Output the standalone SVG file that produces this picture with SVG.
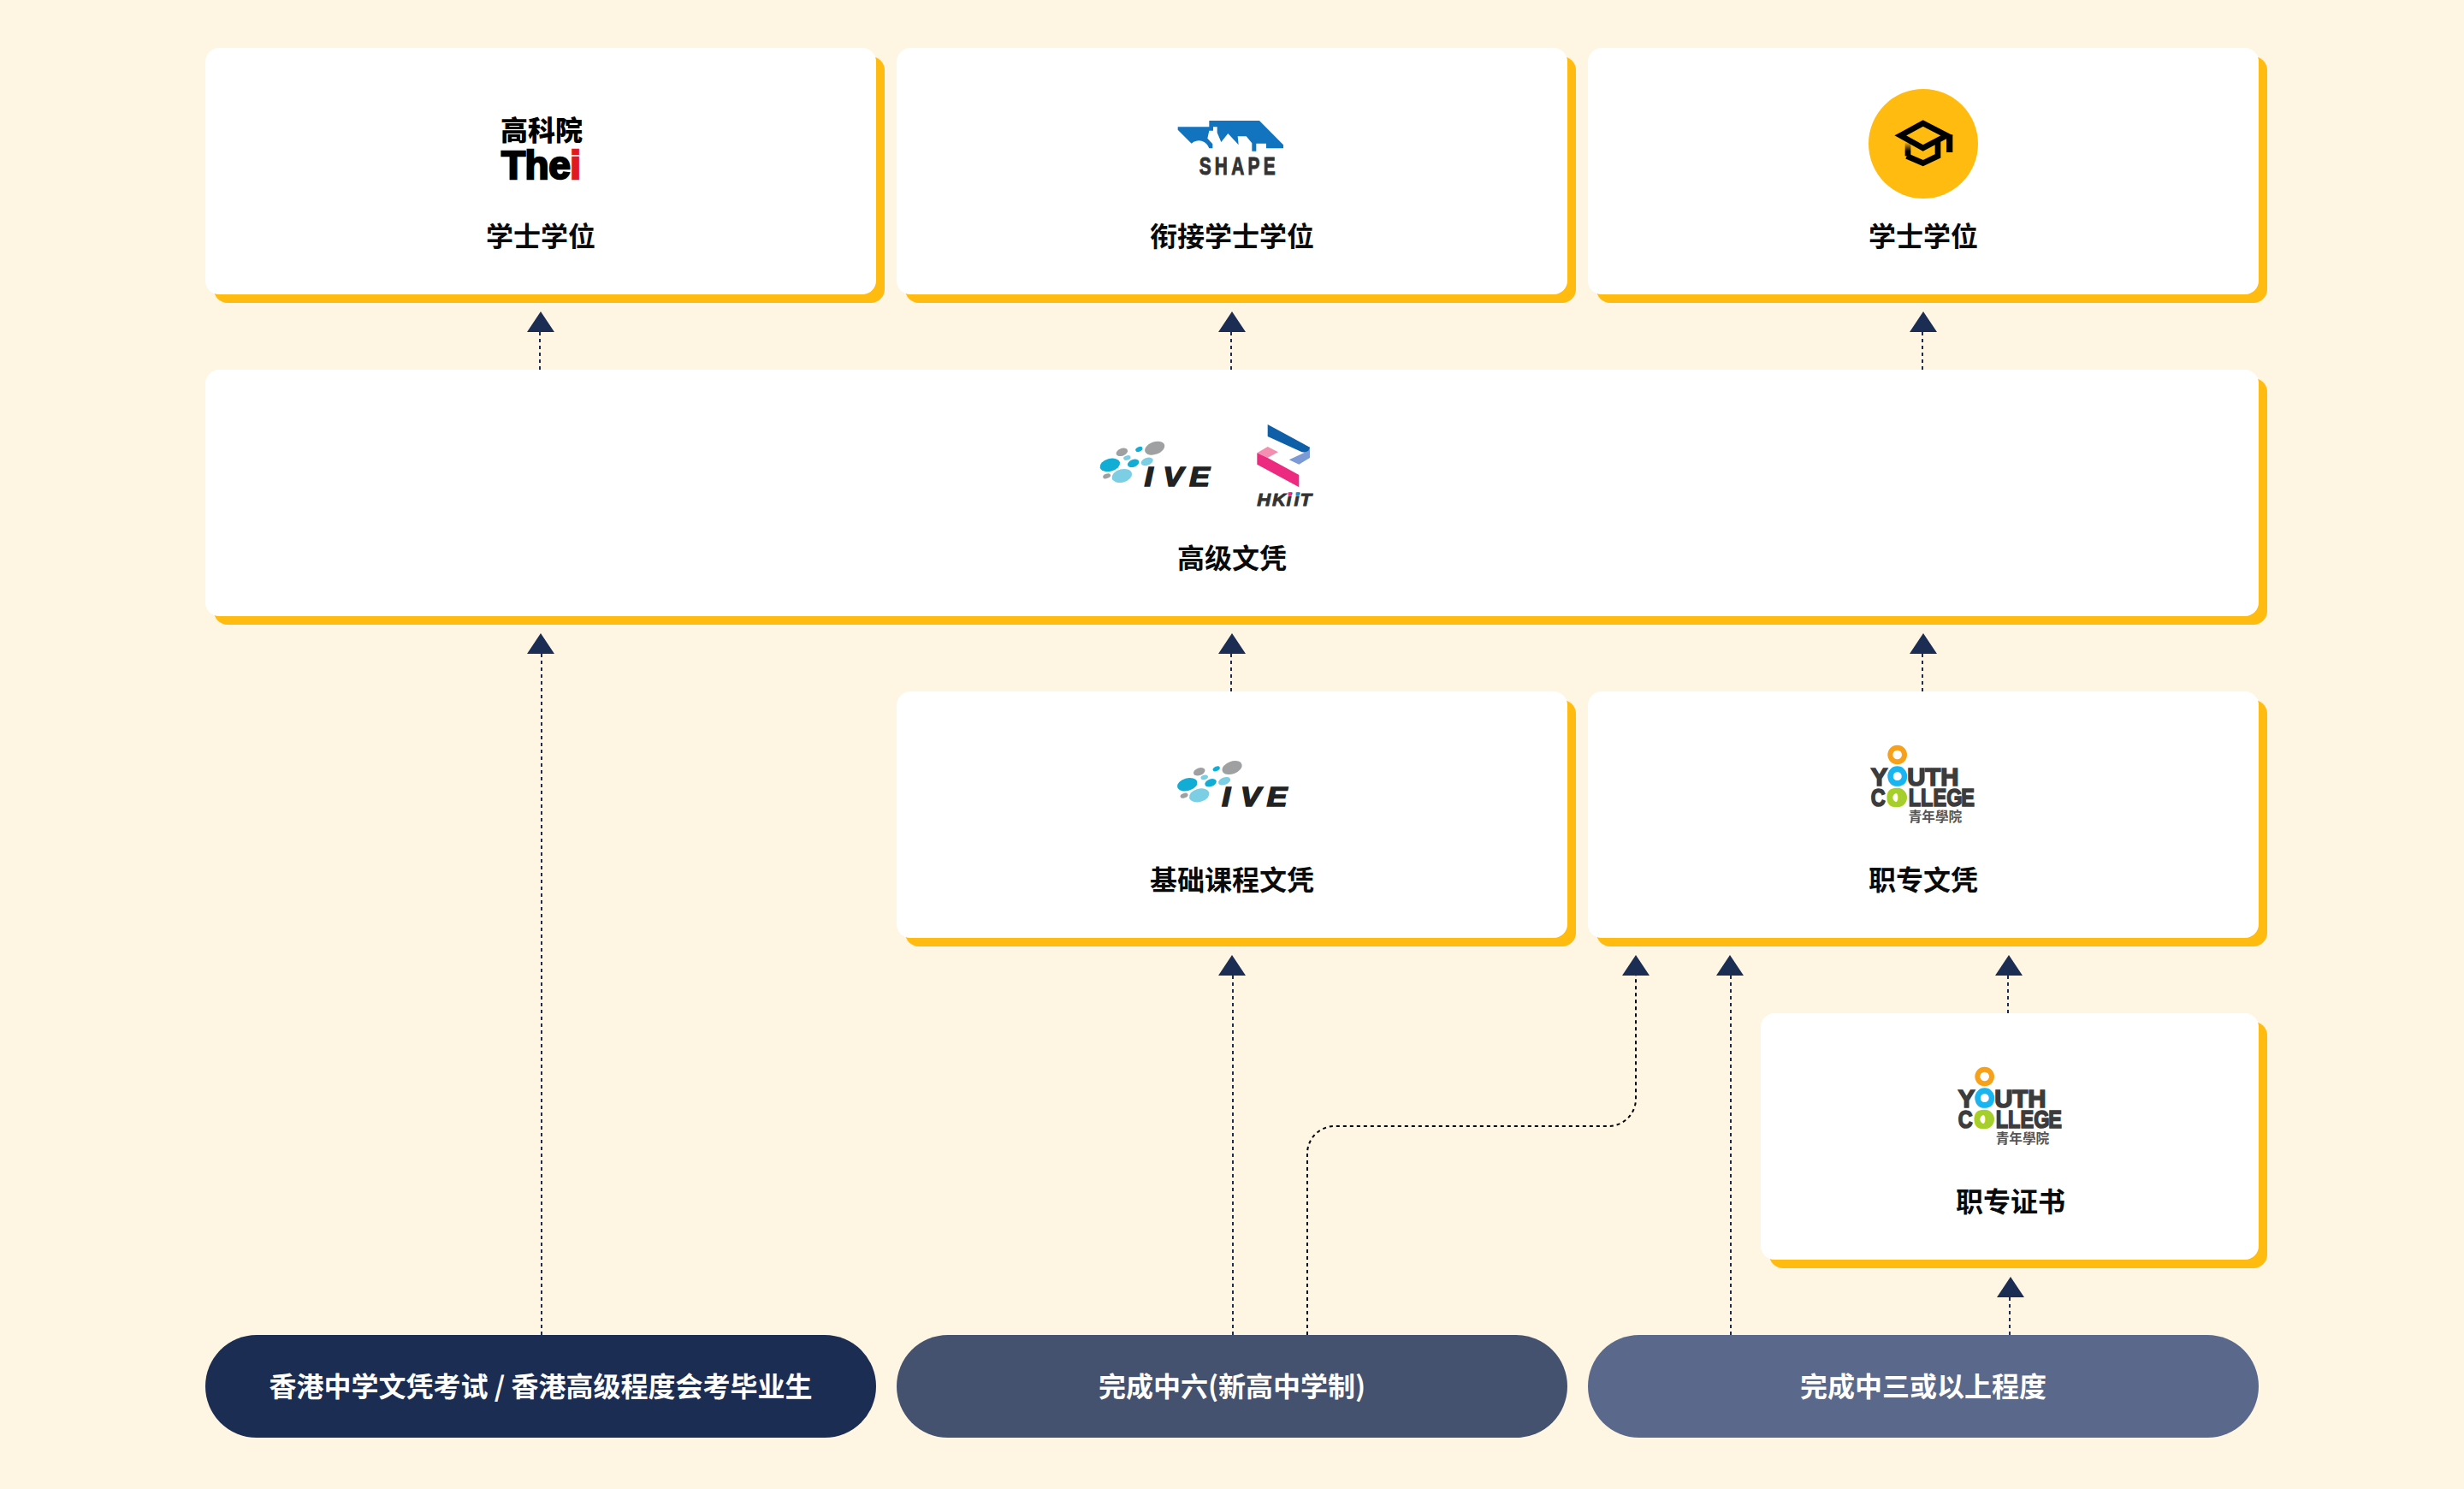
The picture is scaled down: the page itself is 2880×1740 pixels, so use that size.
<svg xmlns="http://www.w3.org/2000/svg" width="2880" height="1740" viewBox="0 0 2880 1740">
<style>
.shadow{fill:#FFBB10}
.card{fill:#fff}
.lbl{font-family:"Noto Sans CJK SC","Noto Sans",sans-serif;font-weight:700;font-size:32px;fill:#0a0a0a;text-anchor:middle}
.pl{font-family:"Noto Sans CJK SC","Noto Sans",sans-serif;font-weight:700;font-size:32px;fill:#fff;text-anchor:middle}
.conn{fill:none;stroke:#1C2D54;stroke-width:2;stroke-dasharray:4 4;marker-end:url(#ah)}
.rt{marker-end:url(#ahr)}
.lt{marker-end:url(#ahl)}
.blk{stroke:#000}
.ive{font-family:"Liberation Sans",sans-serif;font-weight:700;font-style:italic;font-size:92px;fill:#222;stroke:#222;stroke-width:5}
.yc{font-family:"Liberation Sans",sans-serif;font-weight:700;font-size:88px;fill:#3c3c3c;stroke:#3c3c3c;stroke-width:5}
.yt{font-family:"Noto Sans CJK TC",sans-serif;font-weight:700;font-size:47px;fill:#555}
.ring{fill:none;stroke-width:18}
.g1{fill:#9FA0A2}.c1{fill:#12ADD5}.l1{fill:#7BCEE4}
</style>
<defs>
<marker id="ah" markerUnits="userSpaceOnUse" markerWidth="24" markerHeight="34" refX="0" refY="16" orient="auto" overflow="visible"><path d="M0 0L24 16L0 32Z" fill="#1C2D54"/></marker>
<marker id="ahr" markerUnits="userSpaceOnUse" markerWidth="24" markerHeight="34" refX="0" refY="17" orient="auto" overflow="visible"><path d="M0 0L24 16L0 32Z" fill="#1C2D54"/></marker>
<marker id="ahl" markerUnits="userSpaceOnUse" markerWidth="24" markerHeight="34" refX="0" refY="15" orient="auto" overflow="visible"><path d="M0 0L24 16L0 32Z" fill="#1C2D54"/></marker>
<linearGradient id="fade" gradientUnits="userSpaceOnUse" x1="0" y1="258" x2="0" y2="290"><stop offset="0" stop-color="#000" stop-opacity="0"/><stop offset="1" stop-color="#000"/></linearGradient>
<g id="ivedots">
<ellipse class="c1" cx="172" cy="190" rx="36" ry="22" transform="rotate(-15 172 190)"/>
<ellipse class="g1" cx="214" cy="145" rx="21" ry="13" transform="rotate(-20 214 145)"/>
<ellipse class="l1" cx="232" cy="165" rx="13" ry="8" transform="rotate(-15 232 165)"/>
<ellipse class="c1" cx="274" cy="135" rx="13" ry="8" transform="rotate(-25 274 135)"/>
<ellipse class="g1" cx="329" cy="131" rx="36" ry="22" transform="rotate(-20 329 131)"/>
<ellipse class="c1" cx="254" cy="184" rx="21" ry="13" transform="rotate(-20 254 184)"/>
<ellipse class="l1" cx="302" cy="178" rx="22" ry="13" transform="rotate(-20 302 178)"/>
<ellipse class="l1" cx="214" cy="228" rx="36" ry="23" transform="rotate(-15 214 228)"/>
<ellipse class="g1" cx="161" cy="229" rx="14" ry="8" transform="rotate(-20 161 229)"/>
</g>
<g id="ycrings">
<circle class="ring" cx="233" cy="96" r="25" stroke="#F7A11A"/>
<circle class="ring" cx="233" cy="170" r="25" stroke="#19B5F1"/>
<circle class="ring" cx="233" cy="246" r="25" stroke="#A5CF2B"/>
</g>
</defs>
<rect width="2880" height="1740" fill="#FEF5E3"/>
<g id="connectors">
<path class="conn lt" d="M631 432V388"/>
<path class="conn lt" d="M1439 432V388"/>
<path class="conn lt" d="M2247 432V388"/>
<path class="conn rt" d="M633 1560V764"/>
<path class="conn lt" d="M1439 808V764"/>
<path class="conn lt" d="M2247 808V764"/>
<path class="conn rt" d="M1441 1560V1140"/>
<path class="conn blk" d="M1528 1560V1348A32 32 0 0 1 1560 1316H1880A32 32 0 0 0 1912 1284V1140"/>
<path class="conn rt" d="M2023 1560V1140"/>
<path class="conn lt" d="M2347 1184V1140"/>
<path class="conn lt" d="M2349 1560V1516"/>
</g>
<g id="node-thei">
<rect class="shadow" x="250" y="66" width="784" height="288" rx="16"/>
<rect class="card" x="240" y="56" width="784" height="288" rx="16"/>
<text x="633" y="164" text-anchor="middle" font-family="'Noto Sans CJK TC',sans-serif" font-weight="900" font-size="32" fill="#000">高科院</text>
<text x="586" y="209" font-family="'Liberation Sans',sans-serif" font-weight="700" font-size="46" fill="#000" stroke="#000" stroke-width="2.4" textLength="93" lengthAdjust="spacing">The<tspan fill="#E01A22" stroke="#E01A22">i</tspan></text>
<text class="lbl" x="632" y="288">学士学位</text>
</g>
<g id="node-shape">
<rect class="shadow" x="1058" y="66" width="784" height="288" rx="16"/>
<rect class="card" x="1048" y="56" width="784" height="288" rx="16"/>
<g transform="translate(1300 80) scale(.33333)">
<path fill="#1273BE" d="M230 205H340V183H516L600 268V280H540V263H505V290H490V262L470 238H440L443 268L406 228L382 258L368 225V205H354V218H340L334 245L352 265V280H340A38 38 0 0 0 278 263L230 215Z"/>
<text transform="translate(305 373) scale(.72 1)" font-family="'Liberation Sans',sans-serif" font-weight="700" font-size="87" fill="#333" stroke="#333" stroke-width="3" textLength="371" lengthAdjust="spacing">SHAPE</text>
</g>
<text class="lbl" x="1440" y="288">衔接学士学位</text>
</g>
<g id="node-degree">
<rect class="shadow" x="1866" y="66" width="784" height="288" rx="16"/>
<rect class="card" x="1856" y="56" width="784" height="288" rx="16"/>
<circle cx="2248" cy="168" r="64" fill="#FFBB10"/>
<g transform="translate(2140 80) scale(.33333)" fill="none" stroke="#000" stroke-width="20">
<path d="M244 235L323 192L406 235L323 279Z"/>
<path d="M416 232V294" stroke-width="22"/>
<path d="M270 260V307" stroke="url(#fade)"/>
<path d="M266 307L323 332L375 307V258"/>
</g>
<text class="lbl" x="2248" y="288">学士学位</text>
</g>
<g id="node-higher">
<rect class="shadow" x="250" y="442" width="2400" height="288" rx="16"/>
<rect class="card" x="240" y="432" width="2400" height="288" rx="16"/>
<g transform="translate(1240 480) scale(.33333)">
<use href="#ivedots"/>
<text class="ive" transform="scale(1.15 1)" x="255 312 392" y="265">IVE</text>
<path fill="#0F5FA8" d="M725 48L873 128V148L845 145L725 90Z"/>
<path fill="#7C9BD6" d="M873 128V165L835 188L800 172L868 140Z"/>
<path fill="#F48FB1" d="M688 148L725 126L762 145L725 165Z"/>
<path fill="#EC2A7F" d="M688 148L725 165L835 225V268L688 188Z"/>
<text transform="scale(1.1 1)" x="625 674 719 743 762" y="333" font-family="'Liberation Sans',sans-serif" font-weight="700" font-style="italic" font-size="60" fill="#333" stroke="#333" stroke-width="2.5">HKiiT</text>
<rect x="797" y="286" width="12" height="11" fill="#EC2A7F"/>
<rect x="824" y="286" width="12" height="11" fill="#1C8FD8"/>
</g>
<text class="lbl" x="1440" y="664">高级文凭</text>
</g>
<g id="node-foundation">
<rect class="shadow" x="1058" y="818" width="784" height="288" rx="16"/>
<rect class="card" x="1048" y="808" width="784" height="288" rx="16"/>
<g transform="translate(1330.4 853.4) scale(.33333)">
<use href="#ivedots"/>
<text class="ive" transform="scale(1.15 1)" x="255 312 392" y="265">IVE</text>
</g>
<text class="lbl" x="1440" y="1040">基础课程文凭</text>
</g>
<g id="node-vocdip">
<rect class="shadow" x="1866" y="818" width="784" height="288" rx="16"/>
<rect class="card" x="1856" y="808" width="784" height="288" rx="16"/>
<g transform="translate(2140 850) scale(.33333)">
<text class="yc" y="203" x="140 199 268 331 385">Y<tspan fill="#19B5F1" stroke="#19B5F1">O</tspan>UTH</text>
<text class="yc" y="277" transform="scale(.8 1)" x="175 245 340 394 448 507 571">C<tspan fill="#A5CF2B" stroke="#A5CF2B">O</tspan>LLEGE</text>
<use href="#ycrings"/>
<text class="yt" x="272" y="331">青年學院</text>
</g>
<text class="lbl" x="2248" y="1040">职专文凭</text>
</g>
<g id="node-voccert">
<rect class="shadow" x="2068" y="1194" width="582" height="288" rx="16"/>
<rect class="card" x="2058" y="1184" width="582" height="288" rx="16"/>
<g transform="translate(2242 1226) scale(.33333)">
<text class="yc" y="203" x="140 199 268 331 385">Y<tspan fill="#19B5F1" stroke="#19B5F1">O</tspan>UTH</text>
<text class="yc" y="277" transform="scale(.8 1)" x="175 245 340 394 448 507 571">C<tspan fill="#A5CF2B" stroke="#A5CF2B">O</tspan>LLEGE</text>
<use href="#ycrings"/>
<text class="yt" x="272" y="331">青年學院</text>
</g>
<text class="lbl" x="2350" y="1416">职专证书</text>
</g>
<g id="node-dse">
<rect x="240" y="1560" width="784" height="120" rx="60" fill="#1C2D54"/>
<text class="pl" x="632" y="1632">香港中学文凭考试 / 香港高级程度会考毕业生</text>
</g>
<g id="node-s6">
<rect x="1048" y="1560" width="784" height="120" rx="60" fill="#44526F"/>
<text class="pl" x="1440" y="1632">完成中六(新高中学制)</text>
</g>
<g id="node-s3">
<rect x="1856" y="1560" width="784" height="120" rx="60" fill="#5A698B"/>
<text class="pl" x="2248" y="1632">完成中三或以上程度</text>
</g>
</svg>
